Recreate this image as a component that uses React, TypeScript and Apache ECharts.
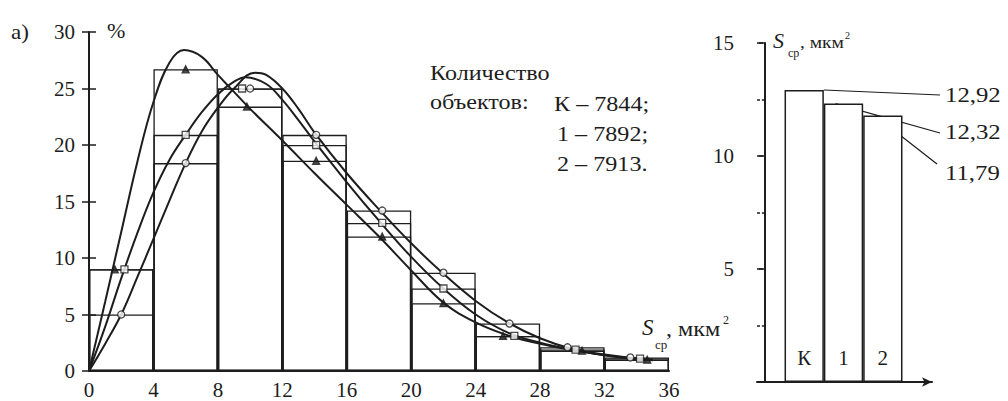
import React, { useEffect, useRef } from "react";
import * as echarts from "echarts";

// Histogram bins of S (µm²), width 4
const binNames = ["0–4", "4–8", "8–12", "12–16", "16–20", "20–24", "24–28", "28–32", "32–36"];

// Share of objects per bin, %
const histK = [5, 18.4, 25, 20.9, 14.2, 8.7, 4.2, 2.1, 1.2];
const hist1 = [9, 20.9, 25, 20.0, 13.1, 7.3, 3.1, 1.9, 1.1];
const hist2 = [9, 26.7, 23.4, 18.6, 11.9, 6.0, 3.1, 1.8, 1.0];

// Marker abscissae on the bin tops
const markXK = [2.0, 6.0, 10.0, 14.1, 18.2, 22.0, 26.1, 29.7, 33.6];
const markX1 = [2.2, 6.0, 9.5, 14.1, 18.2, 22.0, 26.4, 30.2, 34.2];
const markX2 = [1.6, 6.0, 9.8, 14.1, 18.2, 22.0, 25.7, 30.6, 34.65];

// Fitted distribution curves [S, %]
const curveK = [
  [0, 0], [1, 2.4], [2, 5.0], [3, 8.3], [4, 11.7], [5, 15.1], [6, 18.4], [7, 21.2], [8, 23.3],
  [9, 25.0], [10.3, 26.4], [11, 26.2], [12, 25.0], [13, 23.2], [14, 21.1], [16, 17.5], [18, 14.3],
  [20, 11.3], [22, 8.6], [24, 6.2], [26, 4.3], [28, 2.9], [30, 1.95], [32, 1.4], [34, 1.1], [35, 1.0],
];
const curve1 = [
  [0, 0], [1, 3.9], [2, 8.2], [3, 12.2], [4, 15.8], [5, 18.7], [6, 20.9], [7, 22.9], [8, 24.5],
  [9, 25.6], [9.7, 26.0], [11, 25.4], [12, 24.0], [13, 22.2], [14, 20.3], [16, 16.7], [18, 13.3],
  [20, 10.1], [22, 7.3], [24, 5.0], [26, 3.4], [28, 2.5], [30, 1.9], [32, 1.45], [34, 1.1], [35, 1.0],
];
const curve2 = [
  [0, 0], [1, 6.1], [2, 12.3], [3, 18.5], [4, 23.8], [5, 27.3], [5.9, 28.4], [7, 27.8], [8, 26.2],
  [9, 24.7], [10, 23.2], [12, 20.4], [14, 17.5], [16, 14.7], [18, 11.9], [20, 8.9], [22, 6.05],
  [24, 4.3], [26, 3.15], [28, 2.4], [30, 1.85], [32, 1.4], [34, 1.05], [35, 0.95],
];

// Groups, object counts and mean object area (µm²)
const groups = ["К", "1", "2"];
const counts = ["7844", "7892", "7913"];
const meanArea = [12.92, 12.32, 11.79];

export default function App() {
  const ref = useRef<HTMLDivElement>(null);

  useEffect(() => {
    const chart = echarts.init(ref.current!, null, { renderer: "svg" });
    const ink = "#1d1d1d";
    const serif = "Liberation Serif";

    const axisLine = { show: true, lineStyle: { color: ink, width: 2 } };
    const tickStyle = { color: ink, width: 1.5 };
    const labelStyle = { color: ink, fontFamily: serif, fontSize: 21 };

    const histStyle = { color: "rgba(0,0,0,0)", borderColor: ink, borderWidth: 1.3 };
    const curve = (data: number[][]) => ({
      type: "line",
      xAxisIndex: 0,
      yAxisIndex: 0,
      data,
      smooth: 0.4,
      symbol: "none",
      showSymbol: false,
      lineStyle: { color: ink, width: 2 },
      z: 3,
      silent: true,
    });
    const marks = (xs: number[], ys: number[], symbol: string, filled: boolean) => ({
      type: "scatter",
      xAxisIndex: 0,
      yAxisIndex: 0,
      data: xs.map((x, i) => [x, ys[i]]),
      symbol,
      symbolSize: 7,
      itemStyle: { color: filled ? ink : "#fff", borderColor: ink, borderWidth: 1.3 },
      z: 4,
      silent: true,
    });

    chart.setOption({
      animation: false,
      backgroundColor: "#fff",
      grid: [
        { left: 89, top: 32, width: 580, height: 339 },
        { left: 757, top: 43, width: 175, height: 339 },
      ],
      xAxis: [
        {
          type: "value", gridIndex: 0, min: 0, max: 36, interval: 4,
          axisLine, axisTick: { show: false }, splitLine: { show: false },
          axisLabel: { ...labelStyle, margin: 8 },
        },
        { type: "category", gridIndex: 0, data: binNames, show: false },
        {
          type: "value", gridIndex: 1, min: -0.2, max: 4.25,
          axisLine: { show: true, symbol: ["none", "arrow"], symbolSize: [7, 10], lineStyle: { color: ink, width: 2 } },
          axisTick: { show: false }, axisLabel: { show: false }, splitLine: { show: false },
        },
      ],
      yAxis: [
        {
          type: "value", gridIndex: 0, min: 0, max: 30, interval: 5, position: "left",
          axisLine, axisTick: { show: true, length: 7, lineStyle: tickStyle },
          axisLabel: { ...labelStyle, margin: 14 }, splitLine: { show: false },
        },
        {
          type: "value", gridIndex: 0, min: 0, max: 30, interval: 5, position: "left",
          axisLine: { show: false }, axisTick: { show: true, inside: true, length: 7, lineStyle: tickStyle },
          axisLabel: { show: false }, splitLine: { show: false },
        },
        {
          type: "value", gridIndex: 1, min: 0, max: 15, interval: 5, position: "left",
          axisLine, axisTick: { show: true, length: 6, lineStyle: tickStyle },
          minorTick: { show: true, splitNumber: 2, length: 3, lineStyle: tickStyle },
          axisLabel: { ...labelStyle, margin: 23, formatter: (v: number) => (v === 0 ? "" : String(v)) },
          splitLine: { show: false }, minorSplitLine: { show: false },
        },
        {
          type: "value", gridIndex: 1, min: 0, max: 15, interval: 5, position: "left",
          axisLine: { show: false }, axisTick: { show: true, inside: true, length: 6, lineStyle: tickStyle },
          minorTick: { show: true, splitNumber: 2, length: 3, lineStyle: tickStyle },
          axisLabel: { show: false }, splitLine: { show: false }, minorSplitLine: { show: false },
        },
      ],
      series: [
        ...[histK, hist1, hist2].map((d) => ({
          type: "bar", xAxisIndex: 1, yAxisIndex: 0, data: d,
          barGap: "-100%", barCategoryGap: 0, itemStyle: histStyle, z: 2, silent: true,
        })),
        curve(curveK),
        curve(curve1),
        curve(curve2),
        marks(markXK, histK, "circle", false),
        marks(markX1, hist1, "rect", false),
        marks(markX2, hist2, "triangle", true),
        {
          type: "bar", xAxisIndex: 2, yAxisIndex: 2, barWidth: 39.3,
          data: groups.map((g, i) => ({ name: g, value: [i + 1, meanArea[i]] })),
          itemStyle: { color: "#fff", borderColor: ink, borderWidth: 1.5 },
          label: {
            show: true, position: "insideBottom", distance: 14,
            formatter: (p: any) => p.name, ...labelStyle,
          },
          silent: true,
        },
      ],
    });

    const txt = (
      text: string, x: number, y: number, size: number,
      opts: { italic?: boolean; scaleX?: number; align?: string } = {}
    ) => ({
      type: "text",
      x, y,
      scaleX: opts.scaleX ?? 1,
      silent: true,
      style: {
        text,
        fill: ink,
        fontFamily: serif,
        fontSize: size,
        fontStyle: opts.italic ? "italic" : "normal",
        align: opts.align ?? "left",
        textAlign: opts.align ?? "left",
        verticalAlign: "middle",
        textVerticalAlign: "middle",
      },
    });

    // Leader lines from bar tops to the mean-area labels
    const leaderEnds = [[940, 95], [940, 133], [937, 164]];
    const labelY = [95, 132, 173];
    const startShift = [19.6, -8, -8];
    const leaders: any[] = [];
    meanArea.forEach((v, i) => {
      const [px, py] = chart.convertToPixel({ xAxisIndex: 2, yAxisIndex: 2 }, [i + 1, v]) as number[];
      leaders.push({
        type: "line",
        silent: true,
        shape: { x1: px + startShift[i], y1: py, x2: leaderEnds[i][0], y2: leaderEnds[i][1] },
        style: { stroke: ink, lineWidth: 1.2 },
      });
      leaders.push(txt(String(v).replace(".", ","), 945, labelY[i], 21, { scaleX: 1.18 }));
    });

    const legendLines = groups.map((g, i) => `${g} – ${counts[i]}${i === groups.length - 1 ? "." : ";"}`);

    chart.setOption({
      graphic: [
        txt("а)", 11, 32, 21, { scaleX: 1.1 }),
        txt("%", 107, 31, 20, { scaleX: 1.1 }),
        txt("Количество", 430, 73, 21, { scaleX: 1.15 }),
        txt("объектов:", 430, 102, 21, { scaleX: 1.15 }),
        txt(legendLines[0], 554, 104, 21, { scaleX: 1.15 }),
        txt(legendLines[1], 557, 134, 21, { scaleX: 1.15 }),
        txt(legendLines[2], 557, 164, 21, { scaleX: 1.15 }),
        // axis title of the histogram
        txt("S", 642, 327, 23, { italic: true }),
        txt("ср", 655, 344, 13),
        txt(", мкм", 666, 329, 21, { scaleX: 1.15 }),
        txt("2", 723, 320, 12),
        // axis title of the mean-area plot
        txt("S", 773, 40, 22, { italic: true }),
        txt("ср", 788, 53, 12),
        txt(", мкм", 800, 42, 17, { scaleX: 1.15 }),
        txt("2", 845, 35, 10),
        ...leaders,
      ],
    });

    return () => chart.dispose();
  }, []);

  return (
    <div
      ref={ref}
      style={{ position: "absolute", left: 0, top: 0, width: 1008, height: 401, background: "#fff" }}
    />
  );
}
